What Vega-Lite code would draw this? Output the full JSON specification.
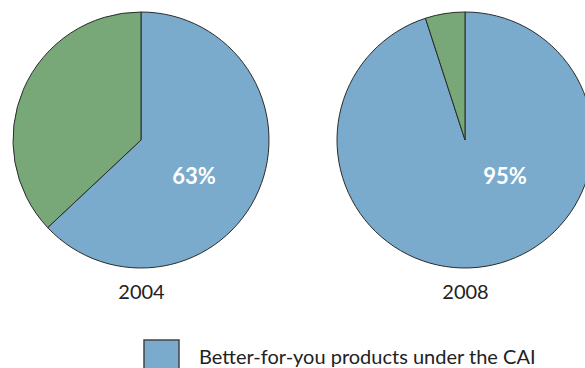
{
  "$schema": "https://vega.github.io/schema/vega-lite/v6.json",
  "width": 585,
  "height": 280,
  "autosize": {"type": "none"},
  "padding": {"left": 0, "top": 0, "right": 0, "bottom": 88},
  "background": "white",
  "config": {"view": {"stroke": null}, "font": "Lato"},
  "data": {
    "values": [
      {"year": "2004", "category": "Better-for-you products under the CAI", "share": 63, "rank": 1},
      {"year": "2004", "category": "Other products", "share": 37, "rank": 2},
      {"year": "2008", "category": "Better-for-you products under the CAI", "share": 95, "rank": 1},
      {"year": "2008", "category": "Other products", "share": 5, "rank": 2}
    ]
  },
  "encoding": {
    "x": {
      "field": "year",
      "type": "nominal",
      "scale": {"type": "point", "range": [141, 465], "padding": 0},
      "axis": {
        "title": null,
        "orient": "bottom",
        "domain": false,
        "ticks": false,
        "grid": false,
        "labelFontSize": 20,
        "labelColor": "#222222",
        "labelFont": "Lato",
        "labelPadding": 2,
        "labelAngle": 0
      }
    }
  },
  "layer": [
    {
      "transform": [
        {"stack": "share", "groupby": ["year"], "sort": [{"field": "rank", "order": "ascending"}], "as": ["start", "end"]}
      ],
      "mark": {"type": "arc", "outerRadius": 128, "stroke": "#2b2b2b", "strokeWidth": 1},
      "encoding": {
        "theta": {"field": "start", "type": "quantitative", "stack": null, "scale": {"domain": [0, 100]}},
        "theta2": {"field": "end"},
        "color": {
          "field": "category",
          "type": "nominal",
          "scale": {
            "domain": ["Better-for-you products under the CAI", "Other products"],
            "range": ["#7aabcc", "#79a878"]
          },
          "legend": {
            "title": null,
            "orient": "none",
            "legendX": 143,
            "legendY": 339,
            "padding": 0,
            "values": ["Better-for-you products under the CAI"],
            "symbolType": "square",
            "symbolSize": 1225,
            "symbolStrokeColor": "#444444",
            "symbolStrokeWidth": 1.5,
            "symbolOpacity": 1,
            "labelFontSize": 20,
            "labelFont": "Lato",
            "labelColor": "#222222",
            "labelOffset": 19,
            "labelLimit": 500
          }
        }
      }
    },
    {
      "transform": [{"filter": "datum.rank == 1 && datum.year == '2004'"}, {"calculate": "datum.share + '%'", "as": "label"}],
      "mark": {"type": "text", "dx": 53, "dy": 37, "fontSize": 22, "fontWeight": "bold", "color": "white", "font": "Lato"},
      "encoding": {"text": {"field": "label", "type": "nominal"}}
    },
    {
      "transform": [{"filter": "datum.rank == 1 && datum.year == '2008'"}, {"calculate": "datum.share + '%'", "as": "label"}],
      "mark": {"type": "text", "dx": 40, "dy": 37, "fontSize": 22, "fontWeight": "bold", "color": "white", "font": "Lato"},
      "encoding": {"text": {"field": "label", "type": "nominal"}}
    }
  ]
}
